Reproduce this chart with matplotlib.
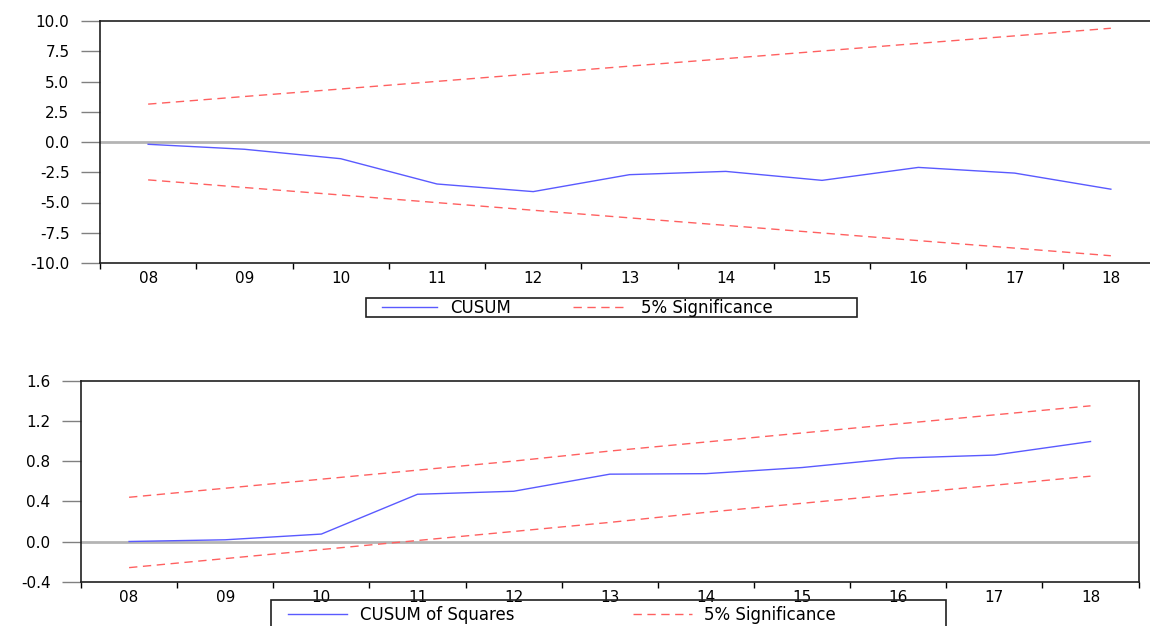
import matplotlib
matplotlib.use('Agg')
import matplotlib.pyplot as plt
import numpy as np

years = ['08', '09', '10', '11', '12', '13', '14', '15', '16', '17', '18']

cusum = [-0.19, -0.60, -1.38, -3.47, -4.10, -2.70, -2.43, -3.17, -2.10, -2.57, -3.90]
cusum_upper = [3.13, 3.76, 4.38, 5.01, 5.64, 6.27, 6.89, 7.52, 8.15, 8.77, 9.40]
cusum_lower = [-3.13, -3.76, -4.38, -5.01, -5.64, -6.27, -6.89, -7.52, -8.15, -8.77, -9.40]

cusumsq = [0.00, 0.017, 0.074, 0.47, 0.50, 0.67, 0.675, 0.736, 0.83, 0.86, 0.995]
cusumsq_upper = [0.44, 0.53, 0.62, 0.71, 0.80, 0.90, 0.99, 1.08, 1.17, 1.26, 1.35]
cusumsq_lower = [-0.26, -0.17, -0.08, 0.01, 0.10, 0.19, 0.29, 0.38, 0.47, 0.56, 0.65]

top_yticks = [-10.0, -7.5, -5.0, -2.5, 0.0, 2.5, 5.0, 7.5, 10.0]
bot_yticks = [-0.4, 0.0, 0.4, 0.8, 1.2, 1.6]

plt.rcParams['font.family'] = ['DejaVu Sans']
BLUE = '#5a5aff'
RED = '#ff6060'
DASH = (0, (6, 4))
W, H = 1150, 626
FS = 11
LFS = 12
em = LFS * 100 / 72  # legend font size in pixels

fig = plt.figure(figsize=(W / 100, H / 100), dpi=100)

def px(x0, y_top, x1, y_bot):
    return [x0 / W, 1 - y_bot / H, (x1 - x0) / W, (y_bot - y_top) / H]

def style_axis(ax, yticks, ylim):
    x = np.arange(len(years))
    ax.set_xlim(-0.5, len(years) - 0.5)
    ax.set_ylim(*ylim)
    ax.axhline(0, color='#b4b4b4', lw=2, zorder=1)
    ax.set_xticks(x)
    ax.set_xticklabels(years)
    ax.set_xticks(np.arange(-0.5, len(years), 1.0), minor=True)
    ax.tick_params(axis='x', which='major', length=0, pad=6, labelsize=FS)
    ax.tick_params(axis='x', which='minor', length=4, width=1, color='black', direction='out')
    ax.set_yticks(yticks)
    ax.set_yticklabels(['{:.1f}'.format(v) for v in yticks])
    ax.tick_params(axis='y', length=14, width=1, color='#808080', pad=8, labelsize=FS)
    for s in ax.spines.values():
        s.set_color('#202020')
        s.set_linewidth(1.2)

def legend_box(handles, labels, x_box0, x_box1, y_top, y_bot, x_hand, hlen, colsp, y_text):
    fig.add_artist(plt.Rectangle((x_box0 / W, 1 - y_bot / H), (x_box1 - x_box0) / W,
                                 (y_bot - y_top) / H, transform=fig.transFigure,
                                 fill=False, ec='#202020', lw=1.2))
    fig.legend(handles, labels, loc='center left', ncol=2, frameon=False,
               bbox_to_anchor=(x_hand / W, 1 - y_text / H), fontsize=LFS,
               handlelength=hlen / em, handletextpad=13 / em,
               columnspacing=colsp / em, borderpad=0, borderaxespad=0)

x = np.arange(len(years))

# CUSUM
ax1 = fig.add_axes(px(100, 21, 1159, 263))
ax1.plot(x, cusum, color=BLUE, lw=1, label='CUSUM', zorder=3)
ax1.plot(x, cusum_upper, color=RED, lw=1, ls=DASH, label='5% Significance', zorder=3)
ax1.plot(x, cusum_lower, color=RED, lw=1, ls=DASH, zorder=3)
style_axis(ax1, top_yticks, (-10, 10))
ax1.spines['right'].set_visible(False)

h, l = ax1.get_legend_handles_labels()
legend_box(h, l, 366, 857, 298, 317, 382, 55, 62, 307.5)

# CUSUM of Squares
ax2 = fig.add_axes(px(81, 380.7, 1138.6, 581.7))
ax2.plot(x, cusumsq, color=BLUE, lw=1, label='CUSUM of Squares', zorder=3)
ax2.plot(x, cusumsq_upper, color=RED, lw=1, ls=DASH, label='5% Significance', zorder=3)
ax2.plot(x, cusumsq_lower, color=RED, lw=1, ls=DASH, zorder=3)
style_axis(ax2, bot_yticks, (-0.4, 1.6))

h, l = ax2.get_legend_handles_labels()
legend_box(h, l, 271, 946, 600, 634, 288, 59, 118, 615)

fig.savefig('out.png', dpi=100)
